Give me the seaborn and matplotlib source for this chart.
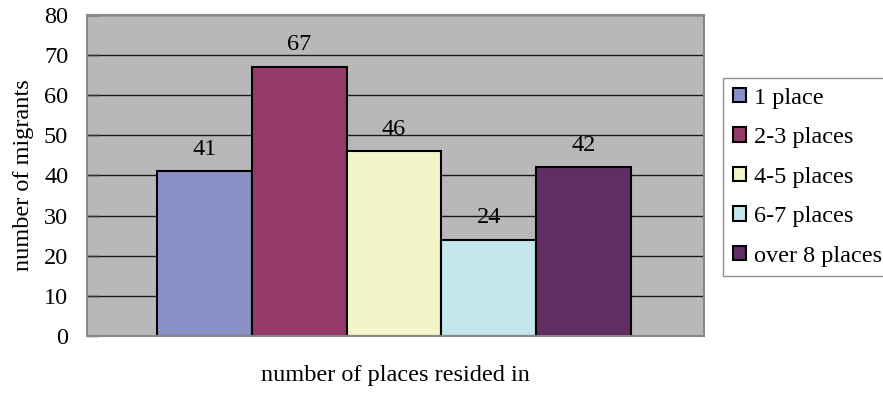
import matplotlib
matplotlib.use("Agg")
import matplotlib.pyplot as plt
from matplotlib.patches import Patch
import pandas as pd
import seaborn as sns

categories = ["1 place", "2-3 places", "4-5 places", "6-7 places", "over 8 places"]
migrants = [41, 67, 46, 24, 42]
colors = ["#8990C6", "#943A69", "#F3F5C8", "#C3E7EC", "#612D64"]
y_ticks = [0, 10, 20, 30, 40, 50, 60, 70, 80]

sns.set_theme(style="white")
plt.rcParams["font.family"] = ["Liberation Serif", "DejaVu Serif"]
plt.rcParams["text.color"] = "black"
plt.rcParams["axes.labelcolor"] = "black"
plt.rcParams["ytick.color"] = "black"

FS = 17.5

df = pd.DataFrame({"places": categories, "migrants": migrants})

fig = plt.figure(figsize=(8.83, 3.95), dpi=100)
ax = fig.add_axes([0.0985, 0.1494, 0.6985, 0.8126])
ax.set_facecolor("#B8B8BA")

sns.barplot(data=df, x="places", y="migrants", hue="places",
            palette=colors, width=1.0, edgecolor="black", linewidth=1.5,
            saturation=1, legend=False, ax=ax, zorder=2)

for cont in ax.containers:
    for t in ax.bar_label(cont, fmt="%d", padding=8.5, fontsize=FS, color="black"):
        t.set_zorder(0.4)

ax.set_axisbelow(True)
ax.yaxis.grid(True, color="#1a1a1a", linewidth=1.0)
ax.xaxis.grid(False)
ax.set_ylim(0, 80)
ax.set_yticks(y_ticks)
ax.set_xlim(-1.24, 5.27)
ax.set_xticks([])
ax.tick_params(axis="y", labelsize=FS, direction="in", length=8,
               color="#333333", labelcolor="black", width=1.0, pad=13.5, left=True)

for s in ax.spines.values():
    s.set_color("#888888")
    s.set_linewidth(1.5)
    s.set_visible(True)

ax.set_ylabel("number of migrants", fontsize=FS, labelpad=7)
ax.set_xlabel("number of places resided in", fontsize=FS, labelpad=21)

handles = [Patch(facecolor=c, edgecolor="black", linewidth=1.5) for c in colors]
leg = fig.legend(handles, categories, loc="upper left",
                 bbox_to_anchor=(0.8188, 0.8025), fontsize=FS,
                 frameon=True, fancybox=False, shadow=False,
                 handlelength=0.54, handleheight=0.54, handletextpad=0.33,
                 labelspacing=0.76, borderpad=0.4, borderaxespad=0)
leg.get_frame().set_edgecolor("#777777")
leg.get_frame().set_linewidth(1.0)

fig.savefig("out.png", dpi=100)
